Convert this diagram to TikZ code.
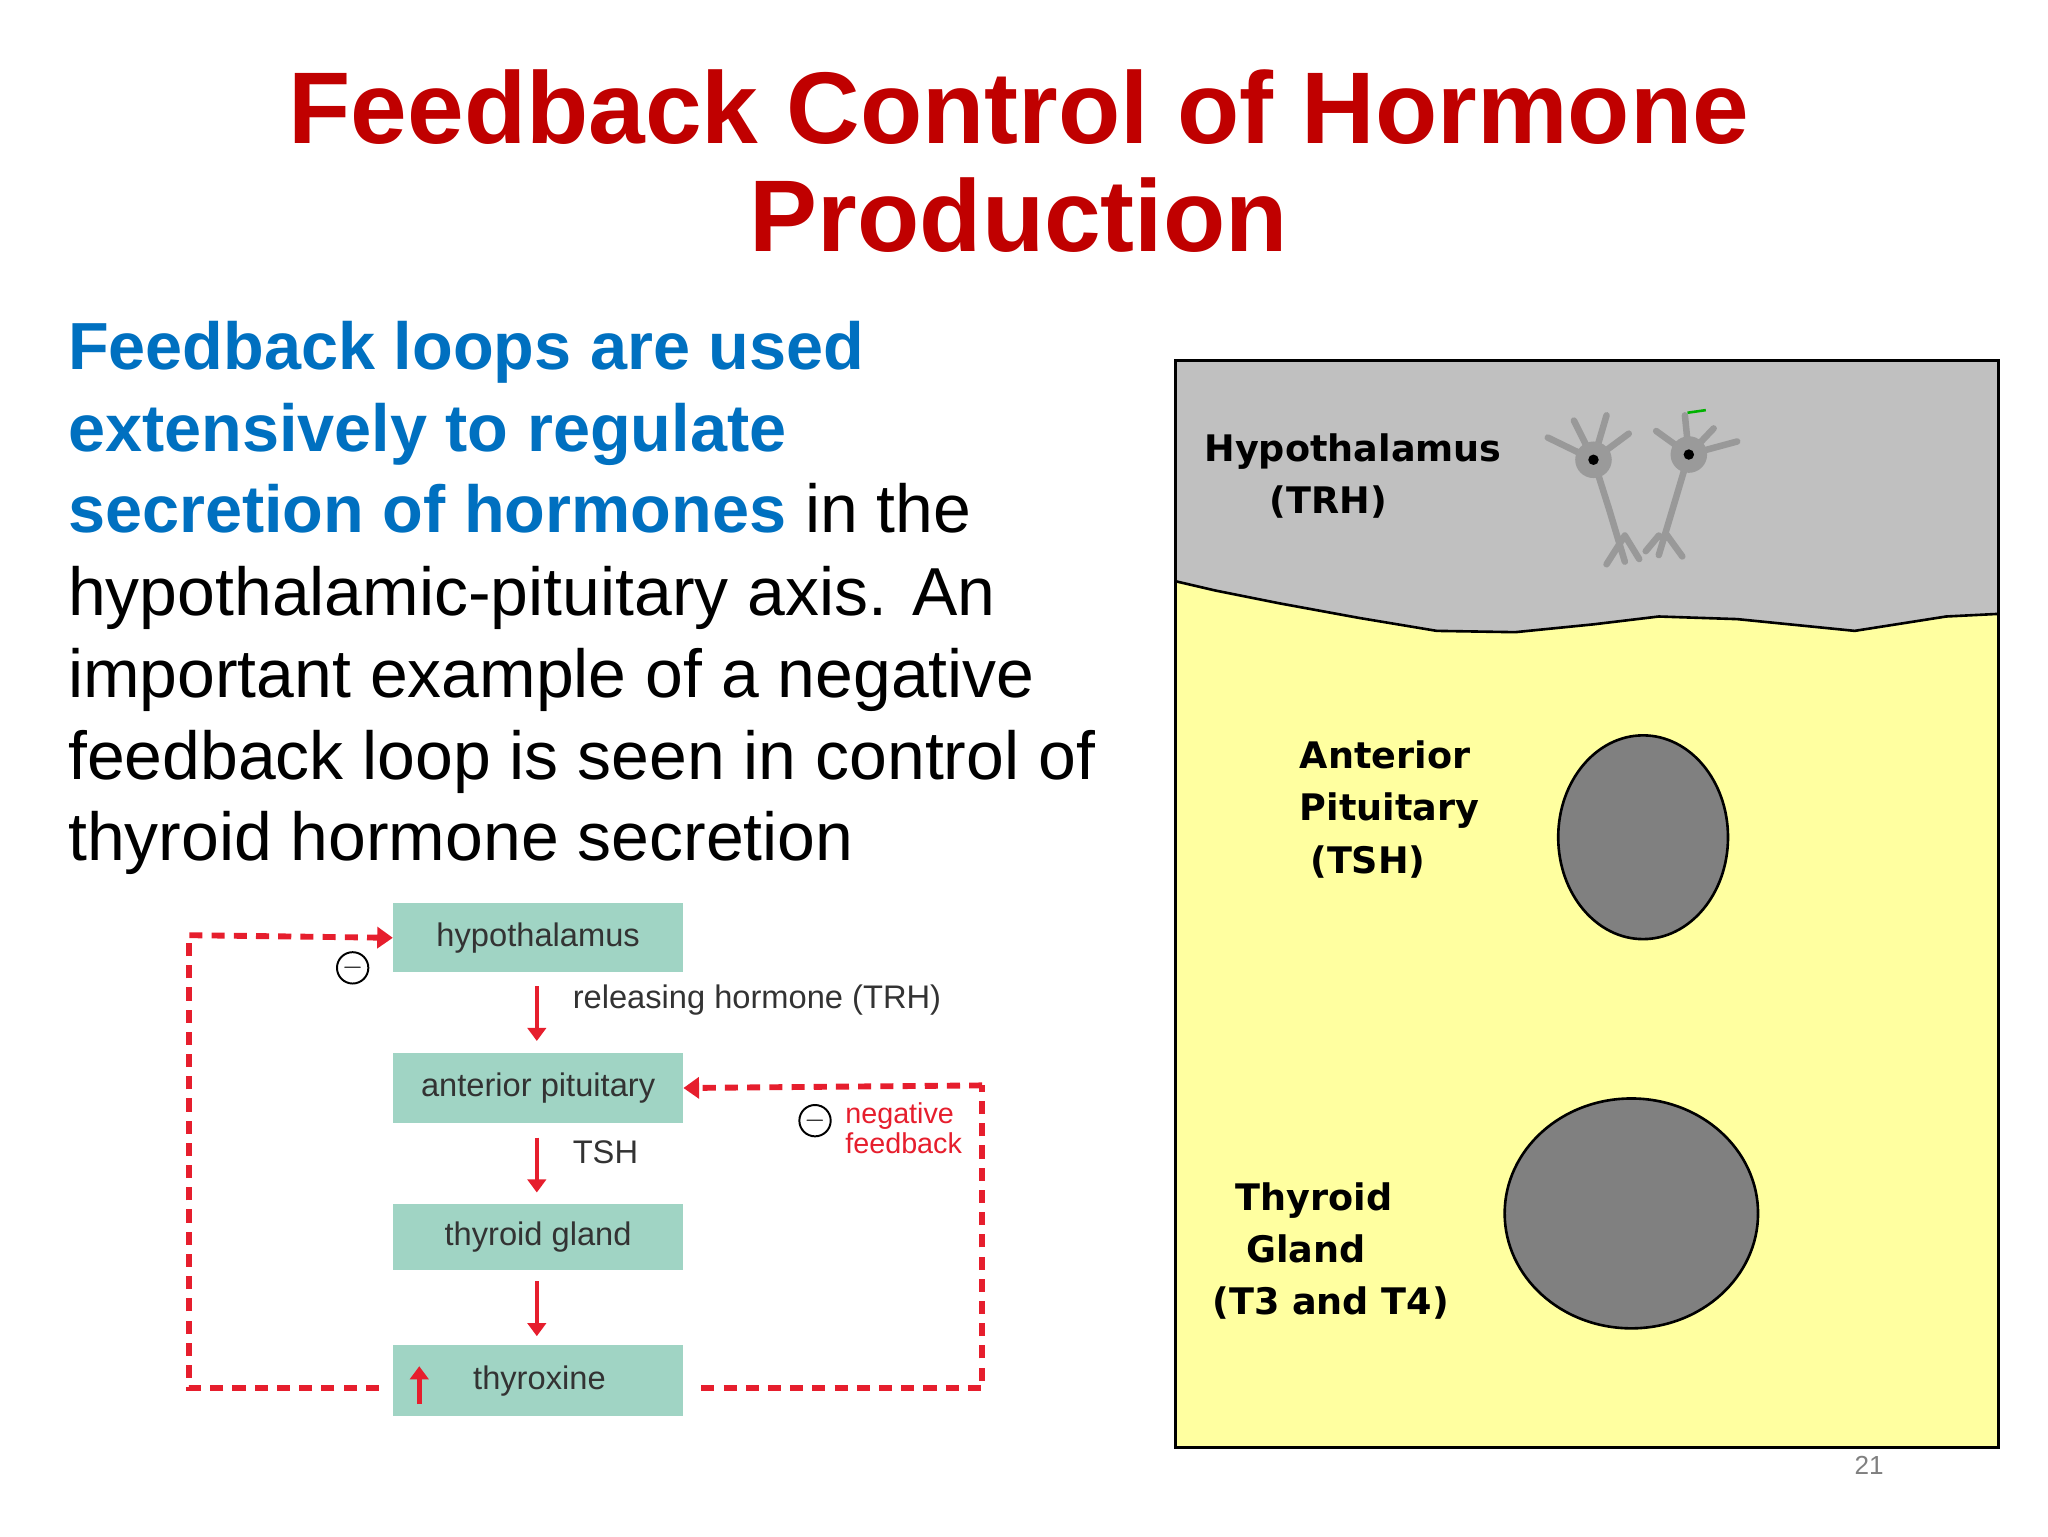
\documentclass[tikz,border=0pt]{standalone}
\usepackage{fontspec}
\setmainfont{Liberation Sans}
\newfontfamily\pixfont{DejaVu Sans}
\usetikzlibrary{arrows.meta,shapes.geometric}
\definecolor{ttl}{RGB}{192,0,0}
\definecolor{blu}{RGB}{0,112,192}
\definecolor{tealbox}{RGB}{160,212,196}
\definecolor{fbred}{RGB}{230,30,45}
\definecolor{yel}{RGB}{255,255,160}
\definecolor{gry}{RGB}{192,192,192}
\definecolor{dgry}{RGB}{128,128,128}
\tikzset{
 x=1pt,y=-1pt,
 body/.style={anchor=base west,inner sep=0pt,font=\fontsize{52}{60}\selectfont},
 flowbox/.style={fill=tealbox,minimum width=222pt,inner sep=0pt,font=\fontsize{25}{30}\selectfont,text=black!80},
 redarr/.style={draw=fbred,line width=3.5pt,-{Triangle[length=10pt,width=14pt]}},
 loop/.style={draw=fbred,line width=4.5pt,dash pattern=on 10pt off 7pt},
 loopend/.style={loop,-{Triangle[length=12pt,width=16pt]}},
 lbl/.style={font=\pixfont\bfseries\fontsize{28}{40}\selectfont,align=left,anchor=north west,inner sep=0pt},
 minus/.style={circle,draw=black,line width=1.5pt,inner sep=0pt,minimum size=24pt,font=\fontsize{20}{20}\selectfont},
}
\begin{document}
\begin{tikzpicture}
\useasboundingbox (0,0) rectangle (1568,1176);
% title
\node[font=\bfseries\fontsize{78}{84}\selectfont,text=ttl] (t1) at (780,82) {Feedback Control of Hormone};
\node[font=\bfseries\fontsize{78}{84}\selectfont,text=ttl] (t2) at (780,165) {Production};
% body
\node[body,text=blu,font=\bfseries\fontsize{51}{58}\selectfont] (b1) at (52,283) {Feedback loops are used};
\node[body,text=blu,font=\bfseries\fontsize{51}{58}\selectfont] (b2) at (52,346) {extensively to regulate};
\node[body] (b3) at (52,408) {\textcolor{blu}{\bfseries\fontsize{51}{58}\selectfont secretion of hormones} in the};
\node[body] (b4) at (52,471) {hypothalamic-pituitary axis. An};
\node[body] (b5) at (52,534) {important example of a negative};
\node[body] (b6) at (52,597) {feedback loop is seen in control of};
\node[body] (b7) at (52,659) {thyroid hormone secretion};
% flow boxes
\node[flowbox,minimum height=53pt] (hyp) at (412,718) {hypothalamus};
\node[flowbox,minimum height=54pt] (ant) at (412,833) {anterior pituitary};
\node[flowbox,minimum height=51pt] (thy) at (412,947) {thyroid gland};
\node[flowbox,minimum height=54pt] (tx) at (412,1057) {\hspace*{2pt}thyroxine};
\draw[redarr] (411,755) -- (411,797);
\draw[redarr] (411,871) -- (411,913);
\draw[redarr] (411,981) -- (411,1023);
\draw[redarr] (321,1075) -- (321,1046);
\node[anchor=west,font=\fontsize{25}{30}\selectfont,text=black!80] (rh) at (435,766) {releasing hormone (TRH)};
\node[anchor=west,font=\fontsize{25}{30}\selectfont,text=black!80] (tsh) at (435,882) {TSH};
% loops
\coordinate (l1) at (145,1063);
\coordinate (l2) at (145,716);
\coordinate (r1) at (752,1063);
\coordinate (r2) at (752,831);
\draw[loop] (290,1063) -- (l1) -- (l2);
\draw[loopend] (l2) -- (hyp.west);
\draw[loop] (537,1063) -- (r1) -- (r2);
\draw[loopend] (r2) -- (ant.east);
\node[minus] (m1) at (270,741) {$-$};
\node[minus] (m2) at (624,858) {$-$};
\node[anchor=west,align=left,text=fbred,font=\fontsize{22}{23}\selectfont,inner sep=0pt] (nf) at (647,864) {negative\\feedback};
% right panel
\fill[yel] (900,276) rectangle (1530,1108);
\fill[gry] (900,276) -- (1530,276) -- (1530,470) -- (1490,472) -- (1420,483) -- (1330,474) -- (1270,472) -- (1220,478) -- (1160,484) -- (1100,483) -- (1040,473) -- (980,462) -- (930,452) -- (900,445) -- cycle;
\draw[line width=2pt] (1530,470) -- (1490,472) -- (1420,483) -- (1330,474) -- (1270,472) -- (1220,478) -- (1160,484) -- (1100,483) -- (1040,473) -- (980,462) -- (930,452) -- (900,445);
\draw[line width=2.5pt] (900,276) rectangle (1530,1108);
\node[lbl] (lh) at (922,332) {Hypothalamus\\\hspace*{50pt}(TRH)};
\node[lbl] (la) at (995,567) {Anterior\\Pituitary\\\hspace*{8pt}(TSH)};
\node[lbl] (lt) at (928,905) {\hspace*{18pt}Thyroid\\\hspace*{26pt}Gland\\(T3 and T4)};
\node[draw=black,line width=2pt,fill=dgry,ellipse,minimum width=130pt,minimum height=156pt,inner sep=0pt] (e1) at (1258,641) {};
\node[draw=black,line width=2pt,fill=dgry,ellipse,minimum width=194pt,minimum height=176pt,inner sep=0pt] (e2) at (1249,929) {};
% neurons
\begin{scope}[draw=dgry!80,line width=5pt,line cap=round]
\draw (1220,352) -- (1185,335) (1220,352) -- (1205,322) (1220,352) -- (1230,318) (1220,352) -- (1247,332);
\draw (1220,352) -- (1232,390) -- (1244,430) (1244,410) -- (1230,432) (1244,410) -- (1255,428);
\draw (1293,348) -- (1268,330) (1293,348) -- (1290,318) (1293,348) -- (1312,328) (1293,348) -- (1330,338);
\draw (1293,348) -- (1282,385) -- (1270,425) (1270,410) -- (1260,422) (1275,408) -- (1288,426);
\end{scope}
\fill[dgry!80] (1220,352) circle (14pt) (1293,348) circle (14pt);
\fill[black] (1220,352) circle (4pt) (1293,348) circle (4pt);
\draw[green!70!black,line width=2pt] (1292,316) -- (1306,314);
\node[text=gray,font=\fontsize{20}{20}\selectfont] (pg) at (1431,1122) {21};
\end{tikzpicture}
\end{document}
